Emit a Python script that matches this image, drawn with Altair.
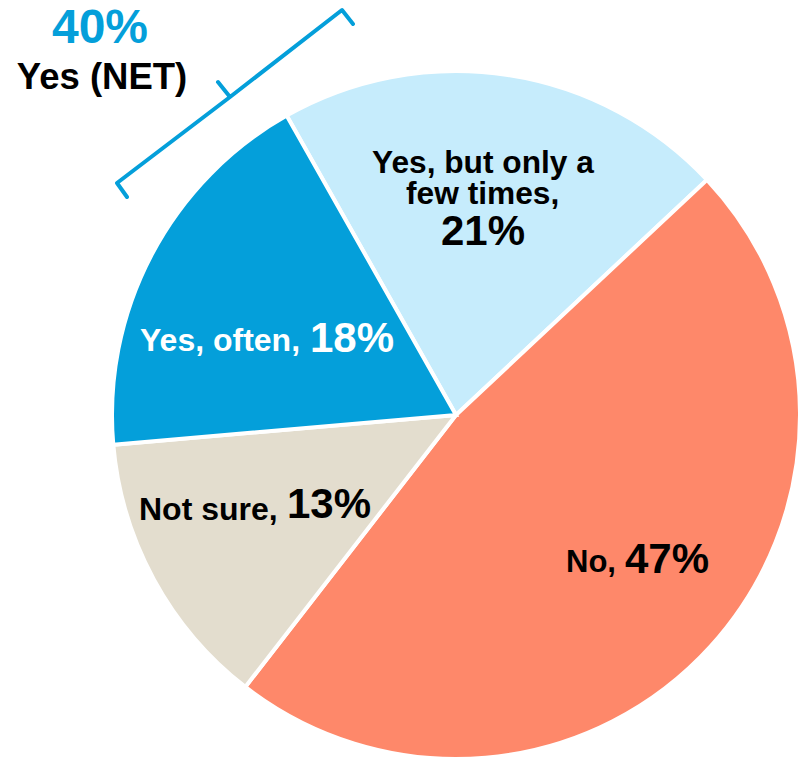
import math
import altair as alt
import pandas as pd

# ---- data ----
categories = ["Yes, but only a few times", "No", "Not sure", "Yes, often"]
values = [21, 47, 13, 18]
colors = ["#c6ecfc", "#fe886a", "#e3ddce", "#049fda"]

net_value = "40%"
net_label = "Yes (NET)"

# label texts (category part, percent part)
label_lines = [
    ("Yes, but only a", 372, 173, 31.7, "#000000"),
    ("few times,", 406, 204, 31.7, "#000000"),
    ("21%", 441, 245, 42, "#000000"),
    ("No,", 566, 572, 31, "#000000"),
    ("47%", 625, 573, 42, "#000000"),
    ("Not sure,", 139, 520, 32, "#000000"),
    ("13%", 287, 518, 42, "#000000"),
    ("Yes, often,", 140, 351, 32, "#ffffff"),
    ("18%", 310, 352, 42, "#ffffff"),
]

W, H = 800, 764
CX, CY, R = 456, 415, 344
start = math.radians(-29.5)

pie_df = pd.DataFrame({"category": categories, "value": values, "order": list(range(len(values)))})

arc = alt.Chart(pie_df).mark_arc(outerRadius=R, stroke="white", strokeWidth=4).encode(
    theta=alt.Theta("value:Q", stack=True, scale=alt.Scale(range=[start, start + 2 * math.pi])),
    color=alt.Color("category:N", scale=alt.Scale(domain=categories, range=colors), legend=None),
    order=alt.Order("order:Q"),
    x=alt.value(CX),
    y=alt.value(CY),
)

lab_df = pd.DataFrame(label_lines, columns=["text", "x", "y", "size", "color"])
labels = alt.Chart(lab_df).mark_text(
    font="Liberation Sans", fontWeight="bold", align="left", baseline="alphabetic"
).encode(
    x=alt.X("x:Q", scale=None, axis=None),
    y=alt.Y("y:Q", scale=None, axis=None),
    text="text:N",
    size=alt.Size("size:Q", scale=None, legend=None),
    color=alt.Color("color:N", scale=None, legend=None),
)

# bracket for Yes (NET)
bracket_pts = [(127, 197), (117, 183), (230, 97), (218, 82), (230, 97), (342, 10), (353, 24)]
br_df = pd.DataFrame({"x": [p[0] for p in bracket_pts], "y": [p[1] for p in bracket_pts],
                      "o": list(range(len(bracket_pts)))})
bracket = alt.Chart(br_df).mark_line(color="#049fda", strokeWidth=4, strokeJoin="round", strokeCap="round").encode(
    x=alt.X("x:Q", scale=None, axis=None),
    y=alt.Y("y:Q", scale=None, axis=None),
    order="o:Q",
)

net_df = pd.DataFrame({"text": [net_value, net_label], "x": [100, 102], "y": [43, 89],
                       "size": [48, 36.5], "color": ["#049fda", "#000000"]})
net = alt.Chart(net_df).mark_text(
    font="Liberation Sans", fontWeight="bold", align="center", baseline="alphabetic"
).encode(
    x=alt.X("x:Q", scale=None, axis=None),
    y=alt.Y("y:Q", scale=None, axis=None),
    text="text:N",
    size=alt.Size("size:Q", scale=None, legend=None),
    color=alt.Color("color:N", scale=None, legend=None),
)

chart = alt.layer(arc, bracket, labels, net).resolve_scale(color="independent").properties(
    width=W, height=H, padding=0, autosize=alt.AutoSizeParams(type="none"), background="white"
).configure_view(stroke=None)

chart.save("out.html", embed_options={"renderer": "svg", "actions": False})
